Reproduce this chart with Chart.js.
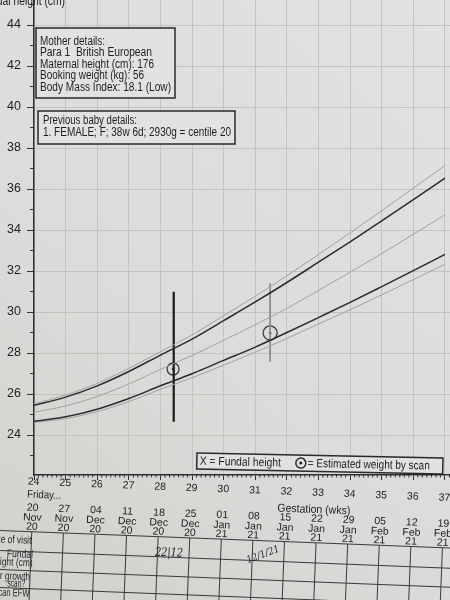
<!DOCTYPE html>
<html>
<head>
<meta charset="utf-8">
<script src="https://cdn.jsdelivr.net/npm/chart.js@4.4.0/dist/chart.umd.min.js"></script>
<style>
html,body{margin:0;padding:0;background:#dcdcd9;}
canvas{display:block;}
</style>
</head>
<body>
<canvas id="c" width="450" height="600"></canvas>
<script>
// ---- data ----
const weeks = [24,25,26,27,28,29,30,31,32,33,34,35,36,37];
const dateDay   = ['20','27','04','11','18','25','01','08','15','22','29','05','12','19'];
const dateMonth = ['Nov','Nov','Dec','Dec','Dec','Dec','Jan','Jan','Jan','Jan','Jan','Feb','Feb','Feb'];
const dateYear  = ['20','20','20','20','20','20','21','21','21','21','21','21','21','21'];
const upperGrey  = [25.52,25.95,26.52,27.25,28.07,28.88,29.82,30.77,31.77,32.81,33.86,34.94,36.04,37.15];
const upperBlack = [25.45,25.85,26.40,27.10,27.90,28.68,29.58,30.49,31.44,32.43,33.42,34.44,35.48,36.53];
const midGrey    = [25.11,25.42,25.88,26.49,27.20,27.88,28.62,29.38,30.18,31.05,31.94,32.85,33.79,34.74];
const lowerBlack = [24.67,24.89,25.26,25.78,26.40,26.99,27.64,28.29,29.00,29.73,30.47,31.24,32.02,32.81];
const lowerGrey  = [24.61,24.80,25.14,25.63,26.23,26.79,27.41,28.04,28.71,29.42,30.11,30.84,31.58,32.33];
const scanWeeks  = [28.40, 31.47];
const scanValues = [27.22, 28.98];
const fundalMarkWeek  = 28.42;
const fundalMarkRange = [30.99, 24.65];
const scanMarkWeek  = 31.47;
const scanMarkRange = [31.40, 27.58];
const motherLines = ['Mother details:','Para 1  British European','Maternal height (cm): 176','Booking weight (kg): 56','Body Mass Index: 18.1 (Low)'];
const babyLines = ['Previous baby details:','1. FEMALE; F; 38w 6d; 2930g = centile 20'];
const rowLabels = ['Date of visit','Fundal','height (cm)','For growth','scan?','Scan EFW'];

const pts = arr => weeks.map((w,i)=>({x:w,y:arr[i]}));
const FONT = "'Liberation Sans', Arial, sans-serif";
const INK = '#1e1e1e';
const GREY_LINE = '#a2a2a0';
const isEven = v => Math.abs(v - Math.round(v)) < 1e-6 && Math.round(v) % 2 === 0;

function line(c,x1,y1,x2,y2){c.beginPath();c.moveTo(x1,y1);c.lineTo(x2,y2);c.stroke();}
function text(c,s,x,y,size,align,maxW){
  c.font = size+'px '+FONT; c.textAlign = align||'left'; c.textBaseline='middle';
  if (maxW) c.fillText(s,x,y,maxW); else c.fillText(s,x,y);
}

const deco = {
  id:'deco',
  beforeDraw(chart){
    const c = chart.ctx;
    c.save();
    const g = c.createLinearGradient(450,0,0,600);
    g.addColorStop(0,'#e2e2e0');
    g.addColorStop(0.6,'#dbdbd9');
    g.addColorStop(1,'#d0d0cd');
    c.fillStyle = g;
    c.fillRect(0,0,chart.width,chart.height);
    c.restore();
  },
  afterDraw(chart){
    const c = chart.ctx, xs = chart.scales.x, ys = chart.scales.y, a = chart.chartArea;
    c.save();
    c.strokeStyle = '#333'; c.fillStyle = INK; c.lineWidth = 1;
    // minor y ticks
    for (let v = 23; v <= 45; v += 2){
      const y = ys.getPixelForValue(v);
      if (y < a.top || y > a.bottom) continue;
      line(c, a.left-4, y, a.left, y);
    }
    // minor x ticks (days)
    for (let d = 1; d < 13*7+2; d++){
      if (d % 7 === 0) continue;
      const w = 24 + d/7;
      if (w > xs.max) break;
      const x = xs.getPixelForValue(w);
      line(c, x, a.bottom, x, a.bottom+2.5);
    }
    // axis title (cut off at top)
    c.fillStyle = INK;
    c.font = '13px '+FONT; c.textAlign='right'; c.textBaseline='alphabetic';
    c.fillText('Fundal height (cm)', 65, 5, 86);

    // mother details box
    c.lineWidth = 1.5; c.strokeStyle = '#2a2a2a';
    c.fillStyle = 'rgba(226,226,224,0.9)';
    c.fillRect(36,28,139,70); c.strokeRect(36,28,139,70);
    c.fillStyle = INK;
    const mW = [65,112,114,104,131], mY = [42,53,64.5,76,87.5];
    motherLines.forEach((s,i)=>text(c,s,40,mY[i],12.5,'left',mW[i]));
    // previous baby box
    c.fillStyle = 'rgba(226,226,224,0.9)';
    c.fillRect(38,111,197,33); c.strokeRect(38,111,197,33);
    c.fillStyle = INK;
    text(c,babyLines[0],43,120.5,12.5,'left',94);
    text(c,babyLines[1],43,132.5,12.5,'left',188);

    // legend box
    c.save();
    c.translate(197,453); c.rotate(0.02); c.translate(-197,-453);
    c.fillStyle = 'rgba(226,226,224,0.95)';
    c.fillRect(197,453,246,16); c.lineWidth=1.5; c.strokeRect(197,453,246,16);
    c.fillStyle = INK;
    text(c,'X = Fundal height',200,461.5,12,'left',81);
    c.lineWidth = 1.5; c.beginPath(); c.arc(301,461,5,0,Math.PI*2); c.stroke();
    c.beginPath(); c.arc(301,461,1.5,0,Math.PI*2); c.fill();
    text(c,'= Estimated weight by scan',308,461.5,12,'left',122);
    c.restore();

    // bottom group (slightly tilted like the photo)
    c.save();
    c.translate(38,475); c.rotate(0.039); c.translate(-38,-475);
    c.fillStyle = INK;
    weeks.forEach((w,i)=>{
      const x = xs.getPixelForValue(w);
      text(c,String(w),x,482,10.5,'center');
      text(c,dateDay[i],x,508,10.5,'center');
      text(c,dateMonth[i],x,518,10.5,'center');
      text(c,dateYear[i],x,527,10.5,'center');
    });
    text(c,'Friday...',28,495,11,'left',34);
    text(c,'Gestation (wks)',315,499,11.5,'center',73);
    // table
    c.strokeStyle = '#3a3a3a'; c.lineWidth = 1;
    [532,552,571,589].forEach(y=>line(c,-10,y,470,y));
    weeks.forEach(w=>{ const x = xs.getPixelForValue(w); line(c,x,532,x,640); });
    c.fillStyle = '#262626';
    text(c,rowLabels[0],12,541,11,'center',44);
    text(c,rowLabels[1],23,555,11,'center',26);
    text(c,rowLabels[2],15,563.5,11,'center',42);
    text(c,rowLabels[3],14,577.5,11,'center',40);
    text(c,rowLabels[4],20.5,584.5,11,'center',18);
    text(c,rowLabels[5],16,594,11,'center',36);
    // handwritten entries
    c.fillStyle = '#202020';
    c.font = 'italic 12px "DejaVu Serif", serif'; c.textAlign='center'; c.textBaseline='middle';
    c.fillText('22|12', 172, 548, 28);
    c.save(); c.translate(266,546); c.rotate(-0.4);
    c.font = 'italic 10px "DejaVu Serif", serif';
    c.fillText('12/1/21', 0, 0, 34);
    c.restore();
    c.restore();

    c.restore();
  }
};

new Chart(document.getElementById('c'), {
  type: 'line',
  data: {
    datasets: [
      {data: pts(upperGrey),  borderColor: GREY_LINE, borderWidth: 1},
      {data: pts(upperBlack), borderColor: '#2b2b2b', borderWidth: 1.5},
      {data: pts(midGrey),    borderColor: GREY_LINE, borderWidth: 1},
      {data: pts(lowerBlack), borderColor: '#2b2b2b', borderWidth: 1.5},
      {data: pts(lowerGrey),  borderColor: GREY_LINE, borderWidth: 1},
      {data: fundalMarkRange.map(v=>({x:fundalMarkWeek,y:v})), borderColor:'#1a1a1a', borderWidth:2.2,
       cubicInterpolationMode:'default', tension:0},
      {data: scanMarkRange.map(v=>({x:scanMarkWeek,y:v})), borderColor:'#8a8a88', borderWidth:1,
       cubicInterpolationMode:'default', tension:0},
      {type:'scatter', data: scanWeeks.map((w,i)=>({x:w,y:scanValues[i]})), showLine:false,
       pointRadius:[6,7], pointBorderColor:'#3a3a3a', pointBorderWidth:1.3, pointBackgroundColor:'rgba(0,0,0,0)'},
      {type:'scatter', data: scanWeeks.map((w,i)=>({x:w,y:scanValues[i]})), showLine:false,
       pointRadius:1.3, pointBorderWidth:0, pointBackgroundColor:'#2a2a2a'}
    ]
  },
  options: {
    responsive: false, animation: false, devicePixelRatio: 1,
    layout: {padding: 0, autoPadding: false},
    plugins: {legend: {display:false}, tooltip: {enabled:false}},
    elements: {point: {radius:0, borderWidth:0}, line: {cubicInterpolationMode:'monotone', fill:false}},
    scales: {
      x: {
        type: 'linear', min: 24, max: 37.16,
        afterFit(s){ s.height = 125; s.paddingLeft = 0; s.paddingRight = 0; },
        grid: {color:'#c3c3c0', lineWidth:1, drawTicks:true, tickLength:5, tickColor:'#333'},
        border: {color:'#2e2e2e', width:1.5},
        ticks: {display:false, stepSize:1, includeBounds:false}
      },
      y: {
        type: 'linear', min: 22.05, max: 45.22,
        afterFit(s){ s.width = 34; s.paddingTop = 0; s.paddingBottom = 0; },
        grid: {color:'#c3c3c0', tickColor:'#333', lineWidth:1, drawTicks:true, tickLength:7},
        border: {color:'#2e2e2e', width:1.5},
        ticks: {
          stepSize:1, includeBounds:false, padding:6, color:INK,
          font:{size:12.5, family:"'Liberation Sans', Arial, sans-serif"},
          callback: v => isEven(v) ? String(Math.round(v)) : null
        }
      }
    }
  },
  plugins: [deco]
});
</script>
</body>
</html>
